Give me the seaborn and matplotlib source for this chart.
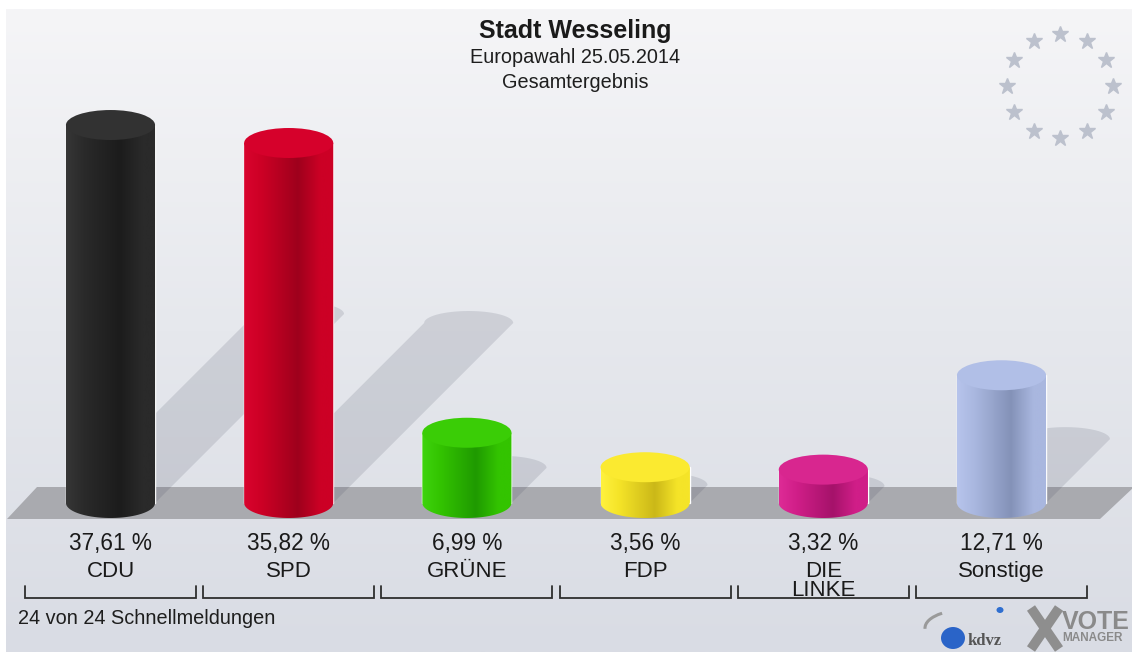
import numpy as np
import matplotlib
matplotlib.use("Agg")
import matplotlib.pyplot as plt
import seaborn as sns
from matplotlib.colors import LinearSegmentedColormap
from matplotlib.patches import Polygon, Ellipse, PathPatch, Arc, Rectangle
from matplotlib.path import Path

# Daten: Europawahl 25.05.2014, Stadt Wesseling
parties = ["CDU", "SPD", "GRÜNE", "FDP", "DIE\nLINKE", "Sonstige"]
shares = [37.61, 35.82, 6.99, 3.56, 3.32, 12.71]

# Farben der Zylinder: hell, basis, dunkel, deckel
light_cols = ["#363636", "#d9042e", "#3fd40e", "#fff23e", "#de2b96", "#b7c4ec"]
base_cols = ["#2a2a2a", "#cc0025", "#33c400", "#f5e428", "#d01e88", "#a9b7df"]
dark_cols = ["#1c1c1c", "#9e001c", "#1f9a00", "#cbb818", "#a5126a", "#8492b8"]
top_cols = ["#323232", "#d6012b", "#3acd06", "#fbea30", "#d8268f", "#b1bfe7"]

title = "Stadt Wesseling"
subtitle = "Europawahl 25.05.2014"
subtitle2 = "Gesamtergebnis"
footer = "24 von 24 Schnellmeldungen"

sns.set_theme(style="white")
plt.rcParams["font.family"] = ["Liberation Sans", "DejaVu Sans"]

W, H = 1132, 652
fig = plt.figure(figsize=(W / 100, H / 100), dpi=100)
fig.patch.set_facecolor("white")
ax = fig.add_axes([0, 0, 1, 1])

# Pixel -> Datenkoordinaten
PX_X, X0 = 178.2, 110.5
PX_Y, Y0 = 10.05, 503.0


def dx(px):
    return (px - X0) / PX_X


def dy(py):
    return (Y0 - py) / PX_Y


RY = 15 / PX_Y  # halbe Hoehe der Ellipsen

# Balken mit seaborn
sns.barplot(x=parties, y=shares, hue=parties, palette=base_cols, width=0.5, saturation=1,
            legend=False, ax=ax, zorder=3)
bars = sorted([p for p in ax.patches if isinstance(p, Rectangle)], key=lambda r: r.get_x())

# Hintergrund-Verlauf
bg = LinearSegmentedColormap.from_list("bg", ["#f5f5f7", "#e6e8ed", "#d9dce4"])
ax.imshow(np.linspace(0, 1, 256).reshape(-1, 1), cmap=bg, aspect="auto",
          extent=(dx(6), dx(W), dy(H), dy(10)), zorder=0)

# Boden
ax.add_patch(Polygon([(dx(7), dy(519)), (dx(1100), dy(519)), (dx(1134), dy(487)), (dx(37), dy(487))],
                     closed=True, fc="#a9aaaf", ec="none", zorder=1))

grad = np.linspace(0, 1, 256).reshape(1, -1)
for i, p in enumerate(bars):
    x0, w, h = p.get_x(), p.get_width(), p.get_height()
    xc = x0 + w / 2

    # Schatten
    rise = h / 2
    shift = rise * PX_Y / PX_X
    th = np.linspace(0, np.pi, 40)
    sx = list(xc + shift + w / 2 * np.cos(th))
    sy = list(rise + RY * 0.8 * np.sin(th))
    verts = [(x0, 0), (x0 + w, 0)] + list(zip(sx, sy)) + [(x0, 0)]
    ax.add_patch(Polygon(verts, closed=True, fc=(0.25, 0.27, 0.35, 0.15), ec="none", zorder=2))

    # Zylinderkoerper mit Verlauf
    th = np.linspace(np.pi, 2 * np.pi, 40)
    body = list(zip(xc + w / 2 * np.cos(th), RY * np.sin(th))) + [(x0 + w, h), (x0, h), (x0, 0)]
    clip = PathPatch(Path(body), fc="none", ec="none")
    ax.add_patch(clip)
    cmap = LinearSegmentedColormap.from_list(
        "c%d" % i, [(0, light_cols[i]), (0.2, base_cols[i]), (0.6, dark_cols[i]),
                    (0.85, base_cols[i]), (1, base_cols[i])])
    im = ax.imshow(grad, cmap=cmap, aspect="auto", extent=(x0, x0 + w, -RY, h), zorder=4)
    im.set_clip_path(clip)

    # Deckel
    ax.add_patch(Ellipse((xc, h), w, 2 * RY, fc=top_cols[i], ec="none", zorder=5))

    # Prozentwert und Parteiname
    ax.text(i, dy(550), f"{shares[i]:.2f} %".replace(".", ","), ha="center", va="baseline",
            fontsize=16.3, color="#1a1a1a")
    for j, line in enumerate(parties[i].split("\n")):
        ax.text(i, dy(577 + 19 * j), line, ha="center", va="baseline", fontsize=16, color="#1a1a1a")

    # Klammer
    xl, xr = i - 85.5 / PX_X, i + 85.5 / PX_X
    ax.plot([xl, xl, xr, xr], [dy(586), dy(598), dy(598), dy(586)], color="#2e2e2e", lw=1.3,
            solid_joinstyle="miter", zorder=6)

# Titel
ax.text(dx(575), dy(38), title, ha="center", va="baseline", fontsize=18, fontweight="bold", color="#1a1a1a")
ax.text(dx(575), dy(63), subtitle, ha="center", va="baseline", fontsize=14.3, color="#1e1e1e")
ax.text(dx(575), dy(88), subtitle2, ha="center", va="baseline", fontsize=14.3, color="#1e1e1e")
ax.text(dx(18), dy(624), footer, ha="left", va="baseline", fontsize=14.3, color="#1e1e1e")

# EU-Sterne
ang = np.deg2rad(90 - 30 * np.arange(12))
ax.plot(dx(1060 + 53 * np.cos(ang)), dy(86 - 52 * np.sin(ang)), ls="none", marker="*",
        ms=12, color="#bcc1cd", zorder=2)

# Logos
ax.add_patch(Arc((dx(965), dy(628)), 80 / PX_X, 36 / PX_Y, theta1=95, theta2=200,
                 color="#9a9a9a", lw=2.2, zorder=6))
ax.add_patch(Ellipse((dx(1000), dy(610)), 7 / PX_X, 6 / PX_Y, fc="#2f6fd0", ec="none", zorder=6))
ax.add_patch(Ellipse((dx(953), dy(638)), 24 / PX_X, 22 / PX_Y, fc="#2a64c8", ec="none", zorder=6))
ax.text(dx(968), dy(645), "kdvz", ha="left", va="baseline", fontsize=12, fontweight="bold",
        family=["Liberation Serif", "DejaVu Serif"], color="#555555", zorder=6)
ax.plot([dx(1031), dx(1059)], [dy(608), dy(649)], color="#8e8e8e", lw=7, solid_capstyle="butt", zorder=6)
ax.plot([dx(1059), dx(1031)], [dy(608), dy(649)], color="#8e8e8e", lw=7, solid_capstyle="butt", zorder=6)
ax.text(dx(1062), dy(629), "VOTE", ha="left", va="baseline", fontsize=18, fontweight="bold",
        color="#8a8a8a", zorder=6)
ax.text(dx(1062), dy(641), "MANAGER", ha="left", va="baseline", fontsize=8.5, fontweight="bold",
        color="#8a8a8a", zorder=6)

ax.set_xlim(dx(0), dx(W))
ax.set_ylim(dy(H), dy(0))
ax.axis("off")

fig.savefig("out.png", dpi=100, facecolor="white")
